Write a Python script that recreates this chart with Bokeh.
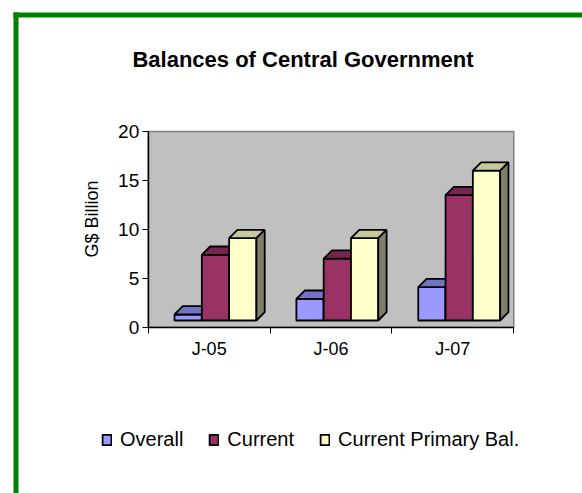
import math
from bokeh.plotting import figure
from bokeh.models import Range1d, FixedTicker, Legend, LegendItem, Label, BoxAnnotation
from bokeh.embed import file_html
from bokeh.resources import INLINE

# ---- data ----
categories = ["J-05", "J-06", "J-07"]
series_names = ["Overall", "Current", "Current Primary Bal."]
overall = [1.3, 2.9, 4.1]
current = [7.4, 7.0, 13.5]
primary = [9.1, 9.1, 16.0]
y_ticks = [0, 5, 10, 15, 20]
title_text = "Balances of Central Government"
y_label = "G$ Billion"

# ---- styles ----
front_colors = ["#9999FF", "#993366", "#FFFFCC"]
top_colors = ["#7373C4", "#76264F", "#C8C89C"]
side_colors = ["#5C5CA3", "#5C1F3D", "#808066"]
FONT = "Liberation Sans"

W, H = 582, 493
NCAT = len(categories)
YMAX = max(y_ticks)
# canvas pixels of the plot area (value-axis wall)
PX_L, PX_R, PY_T, PY_B = 147.7, 513.3, 131.0, 326.7
xs = NCAT / (PX_R - PX_L)
ys = YMAX / (PY_B - PY_T)


def px2x(cx):
    return (cx - PX_L) * xs


def px2y(cy):
    return (PY_B - cy) * ys


p = figure(width=W, height=H, output_backend="svg", toolbar_location=None, title=None,
           x_range=Range1d(px2x(0), px2x(W)), y_range=Range1d(px2y(H), px2y(0)),
           min_border=0, min_border_left=0, min_border_right=0,
           min_border_top=0, min_border_bottom=0)
p.background_fill_color = "white"
p.border_fill_color = "white"
p.outline_line_color = None
p.xgrid.visible = False
p.ygrid.visible = False

# ---- plot area wall ----
p.quad(left=[0], right=[NCAT], bottom=[0], top=[YMAX],
       fill_color="#C0C0C0", line_color="#808080", line_width=1.5)

# ---- axes ----
yax = p.yaxis[0]
yax.fixed_location = 0
yax.bounds = (0, YMAX)
yax.ticker = FixedTicker(ticks=y_ticks, minor_ticks=[])
yax.major_tick_out = 6
yax.major_tick_in = 0
yax.major_tick_line_color = "black"
yax.axis_line_color = "black"
yax.axis_line_width = 1.5
yax.major_label_text_font = FONT
yax.major_label_text_font_size = "19px"
yax.major_label_text_color = "black"
yax.major_label_standoff = 3

centers = [i + 0.5 for i in range(NCAT)]
bounds = [float(i) for i in range(NCAT + 1)]
xax = p.xaxis[0]
xax.fixed_location = 0
xax.bounds = (0, NCAT)
xax.ticker = FixedTicker(ticks=centers, minor_ticks=bounds)
xax.major_label_overrides = {c: lab for c, lab in zip(centers, categories)}
xax.major_tick_out = 0
xax.major_tick_in = 0
xax.minor_tick_out = 6
xax.minor_tick_in = 0
xax.minor_tick_line_color = "black"
xax.axis_line_color = "black"
xax.axis_line_width = 1.5
xax.major_label_text_font = FONT
xax.major_label_text_font_size = "18px"
xax.major_label_text_color = "black"
xax.major_label_standoff = 6

# ---- 3D-effect bars ----
off, bw = 0.216, 0.224
dx = 8.3 * xs
dy = 8.3 * ys
base = 6.7 * ys

renderers = []
for s, vals in enumerate([overall, current, primary]):
    x0 = [i + off + s * bw for i in range(NCAT)]
    x1 = [a + bw for a in x0]
    r = p.quad(left=x0, right=x1, bottom=[base] * len(vals), top=vals,
               fill_color=front_colors[s], line_color="black", line_width=1.8)
    renderers.append(r)
    top_xs = [[a, b, b + dx, a + dx] for a, b in zip(x0, x1)]
    top_ys = [[v, v, v + dy, v + dy] for v in vals]
    p.patches(top_xs, top_ys, fill_color=top_colors[s], line_color="black", line_width=1.8)
    side_xs = [[b, b, b + dx, b + dx] for b in x1]
    side_ys = [[base, v, v + dy, base + dy] for v in vals]
    p.patches(side_xs, side_ys, fill_color=side_colors[s], line_color="black", line_width=1.8)

# ---- legend ----
legend = Legend(items=[LegendItem(label=n, renderers=[r]) for n, r in zip(series_names, renderers)],
                orientation="horizontal", location=(101, H - 450.5), padding=0, margin=0,
                spacing=25, label_standoff=8, glyph_width=11, glyph_height=13,
                border_line_color=None, background_fill_alpha=0,
                label_text_font=FONT, label_text_font_size="20px", label_text_color="black")
p.add_layout(legend)

# ---- title ----
p.add_layout(Label(x=px2x(302.5), y=px2y(59), text=title_text,
                   text_align="center", text_baseline="alphabetic", text_font=FONT,
                   text_font_size="22px", text_font_style="bold", text_color="black"))

# ---- value axis title ----
p.add_layout(Label(x=px2x(91), y=px2y(218.5), text=y_label, angle=math.pi / 2,
                   text_align="center", text_baseline="middle", text_font=FONT,
                   text_font_size="18px", text_color="black"))

# ---- green frame ----
p.add_layout(BoxAnnotation(left=px2x(13), right=px2x(W), top=px2y(12), bottom=px2y(17),
                           fill_color="#008000", fill_alpha=1, line_alpha=0))
p.add_layout(BoxAnnotation(left=px2x(13), right=px2x(18), top=px2y(12), bottom=px2y(H),
                           fill_color="#008000", fill_alpha=1, line_alpha=0))

open("out.html", "w").write(file_html(p, INLINE))
